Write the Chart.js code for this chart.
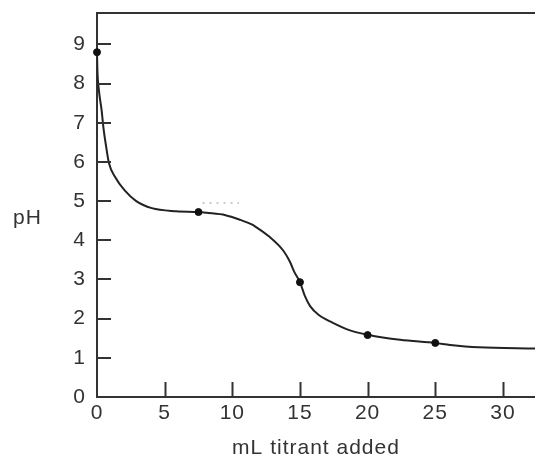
<!doctype html>
<html lang="en">
  <head>
    <meta charset="utf-8">
    <title>Titration curve</title>
    <style>
      * { margin: 0; padding: 0; }
      body { background: #fff; }
      .chartBox {
        position: relative;
        width: 535px;
        height: 461px;
      }
      .yTitle {
        position: absolute;
        left: 13px;
        top: 205px;
        font-family: "Liberation Sans", Arial, sans-serif;
        font-size: 21px;
        color: #333;
        letter-spacing: 1px;
      }
    </style>
  </head>
  <body>
    <div class="chartBox">
      <canvas id="myChart" width="535" height="461"></canvas>
      <div class="yTitle">pH</div>
    </div>

    <script src="https://cdn.jsdelivr.net/npm/chart.js"></script>
    <script>
    // setup

    // smooth curve (mL, pH)
    const curveX = [0, 0.03, 0.14, 0.34, 0.47, 0.68, 0.88, 1.35, 2.03, 2.9, 4.05, 5.86, 7.5, 8.1, 9.5, 10.6, 11.4, 11.7, 12.7, 13.8, 14.26, 14.57, 15, 15.36, 15.75, 16.37, 17.4, 18.7, 20, 22.4, 25, 26.1, 28.2, 32.4];
    const curveY = [8.8, 8.34, 7.83, 7.32, 6.89, 6.38, 5.97, 5.61, 5.28, 5.0, 4.82, 4.74, 4.72, 4.7, 4.64, 4.52, 4.41, 4.35, 4.1, 3.72, 3.45, 3.2, 2.93, 2.58, 2.32, 2.1, 1.9, 1.7, 1.59, 1.46, 1.38, 1.33, 1.27, 1.24];

    // measured points (dots)
    const pointX = [0, 7.5, 15, 20, 25];
    const pointY = [8.8, 4.72, 2.93, 1.58, 1.38];

    // faint dotted mark above the buffer region
    const faintX = [7.8, 10.5];
    const faintY = [4.95, 4.95];

    const xTicks = [0, 5, 10, 15, 20, 25, 30];
    const yTicks = [0, 1, 2, 3, 4, 5, 6, 7, 8, 9];

    const ink = '#333';

    // ticks pointing into the plot + top frame line
    const innerTicks = {
      id: 'innerTicks',
      afterDraw(chart) {
        const { ctx, chartArea, scales } = chart;
        ctx.save();
        ctx.strokeStyle = ink;
        ctx.lineWidth = 2;
        ctx.beginPath();
        ctx.moveTo(chartArea.left, chartArea.top);
        ctx.lineTo(chartArea.right, chartArea.top);
        xTicks.forEach(v => {
          if (v === 0) return;
          const px = Math.round(scales.x.getPixelForValue(v)) + 0.5;
          ctx.moveTo(px, chartArea.bottom);
          ctx.lineTo(px, chartArea.bottom - 15);
        });
        yTicks.forEach(v => {
          if (v === 0) return;
          const py = Math.round(scales.y.getPixelForValue(v));
          ctx.moveTo(chartArea.left, py);
          ctx.lineTo(chartArea.left + 14, py);
        });
        ctx.stroke();
        ctx.restore();
      }
    };

    const spacing = {
      id: 'spacing',
      beforeDraw(chart) {
        chart.ctx.letterSpacing = '1px';
      }
    };

    Chart.defaults.font.family = '"Liberation Sans", Arial, sans-serif';
    Chart.defaults.font.size = 21;
    Chart.defaults.color = ink;

    const config = {
      type: 'scatter',
      data: {
        datasets: [
          {
            label: 'points',
            data: pointX.map((x, i) => ({ x, y: pointY[i] })),
            showLine: false,
            pointStyle: 'circle',
            pointRadius: 3.5,
            backgroundColor: '#111',
            borderColor: '#111',
            clip: 6
          },
          {
            label: 'curve',
            data: curveX.map((x, i) => ({ x, y: curveY[i] })),
            showLine: true,
            borderColor: '#222',
            borderWidth: 2,
            pointRadius: 0,
            cubicInterpolationMode: 'monotone'
          },
          {
            label: 'faint',
            data: faintX.map((x, i) => ({ x, y: faintY[i] })),
            showLine: true,
            borderColor: '#bbb',
            borderWidth: 1.5,
            borderDash: [2, 5],
            pointRadius: 0
          }
        ]
      },
      options: {
        responsive: false,
        animation: false,
        layout: { autoPadding: false, padding: { top: 13, right: 0, left: 0, bottom: 0 } },
        plugins: {
          legend: { display: false },
          tooltip: { enabled: false }
        },
        scales: {
          x: {
            type: 'linear',
            min: 0,
            max: 32.37,
            afterFit: s => { s.height = 64; s.paddingLeft = 0; s.paddingRight = 0; },
            afterBuildTicks: s => { s.ticks = xTicks.map(v => ({ value: v })); },
            ticks: { padding: 4, maxRotation: 0 },
            grid: { display: false, drawTicks: false },
            border: { color: ink, width: 2 },
            title: {
              display: true,
              text: 'mL titrant added',
              padding: { top: 0, bottom: 0 },
              color: ink
            }
          },
          y: {
            type: 'linear',
            min: 0,
            max: 9.8,
            afterFit: s => { s.width = 97; s.paddingTop = 0; s.paddingBottom = 0; },
            afterBuildTicks: s => { s.ticks = yTicks.map(v => ({ value: v })); },
            ticks: { padding: 11 },
            grid: { display: false, drawTicks: false },
            border: { color: ink, width: 2 }
          }
        }
      },
      plugins: [spacing, innerTicks]
    };

    const myChart = new Chart(document.getElementById('myChart'), config);
    </script>
  </body>
</html>
